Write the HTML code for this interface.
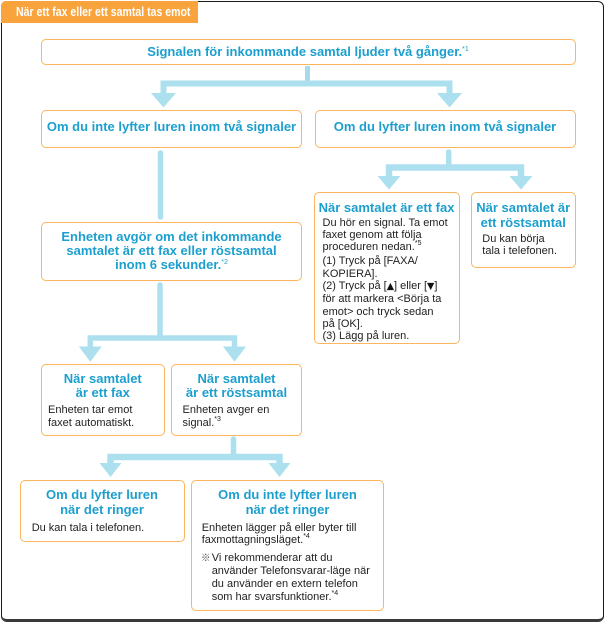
<!DOCTYPE html>
<html>
<head>
<meta charset="utf-8">
<style>
  html, body { margin:0; padding:0; background:#fff; }
  body { width:607px; height:624px; position:relative; overflow:hidden;
         font-family:"Liberation Sans","Noto Sans CJK JP","DejaVu Sans",sans-serif; }
  .frame { position:absolute; left:1px; top:1px; width:603px; height:621px; box-sizing:border-box;
           border:1.5px solid #1a1a1a; border-bottom:3px solid #3a3a3a; border-radius:6px; }
  .tab { position:absolute; left:1px; top:1px; width:197px; height:21.5px; background:#f8a33b;
         border-top-left-radius:5px; }
  .tab span { position:absolute; left:14.5px; top:3px; color:#fff; font-weight:bold; font-size:13px;
              line-height:15px; white-space:nowrap; transform:scaleX(0.81); transform-origin:left top; }
  .box { position:absolute; box-sizing:border-box; border:1.5px solid #fbb55f; border-radius:5px; background:#fff; }
  .t { position:absolute; color:#1c9fcf; font-weight:bold; font-size:13px; line-height:14px;
       white-space:nowrap; text-align:center; }
  .b { position:absolute; color:#222; font-size:11px; line-height:12.4px; white-space:nowrap; }
  .sup { font-size:7px; position:relative; top:-5px; font-weight:normal; }
  .tri { font-family:"DejaVu Sans",sans-serif; font-size:9.5px; color:#111; }
  svg { position:absolute; left:0; top:0; }
</style>
</head>
<body>
<div class="frame"></div>
<div class="tab"><span>När ett fax eller ett samtal tas emot</span></div>

<svg width="607" height="624" viewBox="0 0 607 624">
  <g fill="none" stroke="#ade0ef" stroke-width="6" stroke-linejoin="miter">
    <!-- C1 -->
    <line x1="307.5" y1="66" x2="307.5" y2="84" stroke="#a5dbeb" stroke-width="5"/>
    <polyline points="163.5,95 163.5,83.5 449.5,83.5 449.5,95"/>
    <!-- C2 -->
    <line x1="160.5" y1="153" x2="160.5" y2="217" stroke-linecap="round" stroke-width="5.5"/>
    <!-- C3 -->
    <line x1="160" y1="285" x2="160" y2="338" stroke-linecap="round" stroke-width="5.5"/>
    <polyline points="90.3,348 90.3,338 234.5,338 234.5,348" stroke-width="5.5"/>
    <!-- C4 -->
    <line x1="233.5" y1="439" x2="233.5" y2="457" stroke-linecap="round" stroke-width="5.5"/>
    <polyline points="110.5,465 110.5,457 279.5,457 279.5,465" stroke-width="6.5"/>
    <!-- C5 -->
    <line x1="448.7" y1="152" x2="448.7" y2="167.5" stroke-linecap="round" stroke-width="5.5"/>
    <polyline points="389,178 389,167.5 521,167.5 521,178" stroke-width="6.5"/>
  </g>
  <g fill="#ade0ef">
    <polygon points="151,93 176,93 163.5,107.5"/>
    <polygon points="437,93 462,93 449.5,107.5"/>
    <polygon points="78.8,346.5 101.8,346.5 90.3,361.7"/>
    <polygon points="223,346.5 246,346.5 234.5,361.7"/>
    <polygon points="99.5,463 121.5,463 110.5,477"/>
    <polygon points="268.5,463 290.5,463 279.5,477"/>
    <polygon points="377.5,176 400.5,176 389,189.5"/>
    <polygon points="509.5,176 532.5,176 521,189.5"/>
  </g>
</svg>

<!-- Box 1 -->
<div class="box" style="left:41px;top:39px;width:534.5px;height:26px;"></div>
<div class="t" style="left:41px;top:45.4px;width:534px;">Signalen för inkommande samtal ljuder två gånger.<span class="sup">*1</span></div>

<!-- Box 2 -->
<div class="box" style="left:41px;top:110px;width:261px;height:38px;"></div>
<div class="t" style="left:41px;top:119.8px;width:261px;">Om du inte lyfter luren inom två signaler</div>
<div class="box" style="left:314.5px;top:110px;width:261px;height:38px;"></div>
<div class="t" style="left:314.5px;top:119.8px;width:261px;">Om du lyfter luren inom två signaler</div>

<!-- Box 3 -->
<div class="box" style="left:41px;top:222px;width:261px;height:58.5px;"></div>
<div class="t" style="left:41px;top:230.1px;width:261px;">Enheten avgör om det inkommande<br>samtalet är ett fax eller röstsamtal<br>inom 6 sekunder.<span class="sup">*2</span></div>

<!-- Box 4a -->
<div class="box" style="left:41px;top:363.5px;width:123.5px;height:72.5px;"></div>
<div class="t" style="left:41px;top:371.8px;width:123.5px;">När samtalet<br>är ett fax</div>
<div class="b" style="left:48px;top:403.9px;line-height:12.7px;">Enheten tar emot<br>faxet automatiskt.</div>

<!-- Box 4b -->
<div class="box" style="left:171px;top:363.5px;width:131px;height:72.5px;"></div>
<div class="t" style="left:171px;top:371.8px;width:131px;">När samtalet<br>är ett röstsamtal</div>
<div class="b" style="left:182.5px;top:403.9px;line-height:12.7px;">Enheten avger en<br>signal.<span class="sup">*3</span></div>

<!-- Box 5a -->
<div class="box" style="left:19.5px;top:480px;width:165px;height:61.5px;"></div>
<div class="t" style="left:19.5px;top:486.6px;width:165px;line-height:15px;">Om du lyfter luren<br>när det ringer</div>
<div class="b" style="left:31.7px;top:521.6px;">Du kan tala i telefonen.</div>

<!-- Box 5b -->
<div class="box" style="left:191px;top:480px;width:193px;height:131px;"></div>
<div class="t" style="left:191px;top:486.6px;width:193px;line-height:15px;">Om du inte lyfter luren<br>när det ringer</div>
<div class="b" style="left:201.7px;top:521.6px;">Enheten lägger på eller byter till<br>faxmottagningsläget.<span class="sup">*4</span></div>
<div class="b" style="left:201px;top:551.6px;font-size:9.5px;line-height:13px;color:#444;">※</div>
<div class="b" style="left:211.7px;top:551.6px;line-height:13px;">Vi rekommenderar att du<br>använder Telefonsvarar-läge när<br>du använder en extern telefon<br>som har svarsfunktioner.<span class="sup">*4</span></div>

<!-- Box R1 -->
<div class="box" style="left:313.5px;top:192px;width:146px;height:151.5px;"></div>
<div class="t" style="left:313.5px;top:201.4px;width:146px;">När samtalet är ett fax</div>
<div class="b" style="left:322.5px;top:216.6px;line-height:12.3px;">Du hör en signal. Ta emot<br>faxet genom att följa<br>proceduren nedan.<span class="sup">*5</span><br>(1) Tryck på [FAXA/<br>KOPIERA].<br>(2) Tryck på [<span class="tri">▲</span>] eller [<span class="tri">▼</span>]<br>för att markera &lt;Börja ta<br>emot&gt; och tryck sedan<br>på [OK].<br>(3) Lägg på luren.</div>

<!-- Box R2 -->
<div class="box" style="left:471px;top:192px;width:104.5px;height:75.5px;"></div>
<div class="t" style="left:471px;top:201.4px;width:104.5px;line-height:14.4px;">När samtalet är<br>ett röstsamtal</div>
<div class="b" style="left:482.3px;top:233.9px;line-height:11.8px;">Du kan börja<br>tala i telefonen.</div>

</body>
</html>
